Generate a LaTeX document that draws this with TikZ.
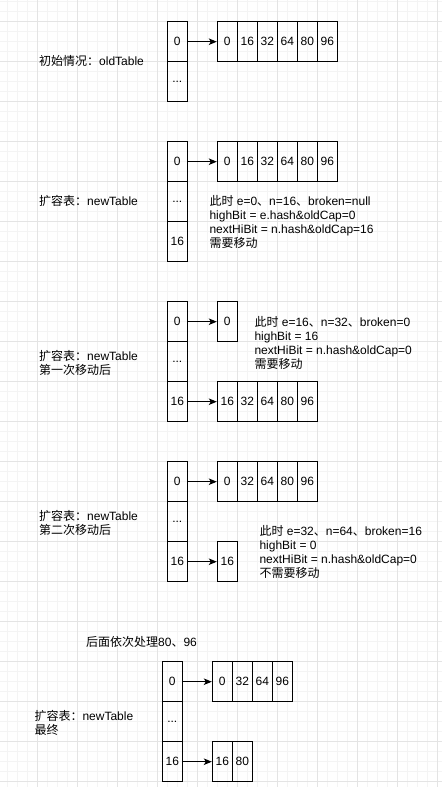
\documentclass[tikz,border=0pt]{standalone}
\usepackage{fontspec}
\setmainfont{Liberation Sans}
\newfontfamily\cjk{Noto Sans CJK SC}
\newcommand{\zh}[1]{{\cjk #1}}
\usetikzlibrary{arrows.meta}
\definecolor{gridmajor}{HTML}{E4E4E4}
\definecolor{gridminor}{HTML}{F4F4F4}
\begin{document}
\begin{tikzpicture}[x=1pt,y=-1pt,
  cell/.style={draw=black,line width=1pt,minimum width=20pt,minimum height=40pt,inner sep=0pt,font=\fontsize{12pt}{14pt}\selectfont},
  txt/.style={anchor=base west,inner sep=0pt,font=\fontsize{12pt}{14pt}\selectfont},
  link/.style={line width=1pt,-{Stealth[length=8pt,width=6.5pt,inset=2pt]}},
  minorline/.style={gridminor,line width=0.6pt},
  majorline/.style={gridmajor,line width=0.8pt}]
\useasboundingbox (0,0) rectangle (442,787);
\fill[white] (0,0) rectangle (442,787);
% grid
\foreach \i in {0,...,43} {\draw[minorline] ({7.3+10*\i},0) -- ({7.3+10*\i},787);}
\foreach \i in {0,...,78} {\draw[minorline] (0,{1.7+10*\i}) -- (442,{1.7+10*\i});}
\foreach \i in {0,...,10} {\draw[majorline] ({37.3+40*\i},0) -- ({37.3+40*\i},787);}
\foreach \i in {0,...,19} {\draw[majorline] (0,{21.7+40*\i}) -- (442,{21.7+40*\i});}

% ---------- panel 1 ----------
\node[txt] (l1) at (39,65.3) {\zh{初始情况：}oldTable};
\node[cell] (a0) at (177.3,41.7) {0};
\node[cell] (a1) at (177.3,81.7) {...};
\foreach \v [count=\k from 0] in {0,16,32,64,80,96} {\node[cell] (ar\k) at ({227.3+20*\k},41.7) {\v};}
\draw[link] (a0.east) -- (ar0.west);

% ---------- panel 2 ----------
\node[txt] (l2) at (39,205.3) {\zh{扩容表：}newTable};
\node[cell] (b0) at (177.3,161.7) {0};
\node[cell] (b1) at (177.3,201.7) {...};
\node[cell] (b2) at (177.3,241.7) {16};
\foreach \v [count=\k from 0] in {0,16,32,64,80,96} {\node[cell] (br\k) at ({227.3+20*\k},161.7) {\v};}
\draw[link] (b0.east) -- (br0.west);
\node[txt] (t2a) at (209.3,205.3) {\zh{此时} e=0\zh{、}n=16\zh{、}broken=null};
\node[txt] (t2b) at (209.3,219.3) {highBit = e.hash\&oldCap=0};
\node[txt] (t2c) at (209.3,233.3) {nextHiBit = n.hash\&oldCap=16};
\node[txt] (t2d) at (209.3,247.3) {\zh{需要移动}};

% ---------- panel 3 ----------
\node[txt] (l3a) at (39,360) {\zh{扩容表：}newTable};
\node[txt] (l3b) at (39,374) {\zh{第一次移动后}};
\node[cell] (c0) at (177.3,321.7) {0};
\node[cell] (c1) at (177.3,361.7) {...};
\node[cell] (c2) at (177.3,401.7) {16};
\node[cell] (cr0) at (227.3,321.7) {0};
\foreach \v [count=\k from 0] in {16,32,64,80,96} {\node[cell] (cs\k) at ({227.3+20*\k},401.7) {\v};}
\draw[link] (c0.east) -- (cr0.west);
\draw[link] (c2.east) -- (cs0.west);
\node[txt] (t3a) at (254.3,326) {\zh{此时} e=16\zh{、}n=32\zh{、}broken=0};
\node[txt] (t3b) at (254.3,340) {highBit = 16};
\node[txt] (t3c) at (254.3,354) {nextHiBit = n.hash\&oldCap=0};
\node[txt] (t3d) at (254.3,368) {\zh{需要移动}};

% ---------- panel 4 ----------
\node[txt] (l4a) at (39,520.3) {\zh{扩容表：}newTable};
\node[txt] (l4b) at (39,534.3) {\zh{第二次移动后}};
\node[cell] (d0) at (177.3,481.7) {0};
\node[cell] (d1) at (177.3,521.7) {...};
\node[cell] (d2) at (177.3,561.7) {16};
\foreach \v [count=\k from 0] in {0,32,64,80,96} {\node[cell] (dr\k) at ({227.3+20*\k},481.7) {\v};}
\node[cell] (ds0) at (227.3,561.7) {16};
\draw[link] (d0.east) -- (dr0.west);
\draw[link] (d2.east) -- (ds0.west);
\node[txt] (t4a) at (259.3,535.3) {\zh{此时} e=32\zh{、}n=64\zh{、}broken=16};
\node[txt] (t4b) at (259.3,549.3) {highBit = 0};
\node[txt] (t4c) at (259.3,563.3) {nextHiBit = n.hash\&oldCap=0};
\node[txt] (t4d) at (259.3,577.3) {\zh{不需要移动}};

% ---------- panel 5 ----------
\node[txt] (t5) at (86,646) {\zh{后面依次处理}80\zh{、}96};
\node[txt] (l5a) at (34.3,720.3) {\zh{扩容表：}newTable};
\node[txt] (l5b) at (34.3,734.3) {\zh{最终}};
\node[cell] (e0) at (172.3,681.7) {0};
\node[cell] (e1) at (172.3,721.7) {...};
\node[cell] (e2) at (172.3,761.7) {16};
\foreach \v [count=\k from 0] in {0,32,64,96} {\node[cell] (er\k) at ({222.3+20*\k},681.7) {\v};}
\foreach \v [count=\k from 0] in {16,80} {\node[cell] (es\k) at ({222.3+20*\k},761.7) {\v};}
\draw[link] (e0.east) -- (er0.west);
\draw[link] (e2.east) -- (es0.west);
\end{tikzpicture}
\end{document}
